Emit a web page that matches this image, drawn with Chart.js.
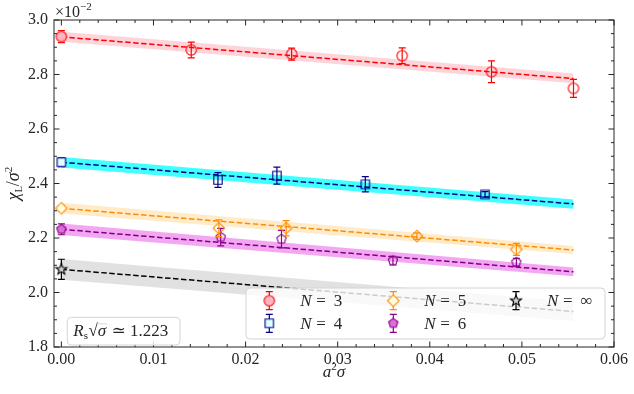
<!DOCTYPE html>
<html>
<head>
<meta charset="utf-8">
<script src="https://cdn.jsdelivr.net/npm/chart.js@4.4.1/dist/chart.umd.min.js"></script>
<style>
  html, body { margin: 0; padding: 0; background: #fff; }
  #wrap { width: 634px; height: 394px; position: relative; }
</style>
</head>
<body>
<div id="wrap"><canvas id="chart"></canvas></div>
<script>
// chi_L / sigma^2 (x 1e-2) against a^2 sigma
const xTicks = [0, 0.01, 0.02, 0.03, 0.04, 0.05, 0.06];
const yTicks = [1.8, 2.0, 2.2, 2.4, 2.6, 2.8, 3.0];

const n3X = [0, 0.0141, 0.0250, 0.0370, 0.0467, 0.0556];
const n3Y = [2.939, 2.890, 2.875, 2.869, 2.810, 2.749];
const n3Err = [0.022, 0.029, 0.022, 0.029, 0.040, 0.033];

const n4X = [0, 0.0170, 0.0234, 0.0330, 0.0460];
const n4Y = [2.478, 2.413, 2.429, 2.397, 2.360];
const n4Err = [0.016, 0.027, 0.031, 0.028, 0.010];

const n5X = [0, 0.0171, 0.0244, 0.0386, 0.0494];
const n5Y = [2.309, 2.236, 2.236, 2.207, 2.158];
const n5Err = [0.010, 0.031, 0.028, 0.012, 0.022];

const n6X = [0, 0.0173, 0.0239, 0.0360, 0.0494];
const n6Y = [2.232, 2.203, 2.196, 2.117, 2.111];
const n6Err = [0.020, 0.032, 0.032, 0.016, 0.014];

const nInfX = [0];
const nInfY = [2.085];
const nInfErr = [0.037];

// linear fits and their error bands
const fitX = [0, 0.0556];
const fit3 = [2.938, 2.785], band3Hi = [2.957, 2.804], band3Lo = [2.920, 2.768];
const fit4 = [2.478, 2.325], band4Hi = [2.497, 2.341], band4Lo = [2.459, 2.307];
const fit5 = [2.309, 2.156], band5Hi = [2.329, 2.171], band5Lo = [2.290, 2.141];
const fit6 = [2.232, 2.076], band6Hi = [2.253, 2.092], band6Lo = [2.211, 2.060];
const fitInf = [2.085, 1.930], bandInfHi = [2.123, 1.966], bandInfLo = [2.047, 1.895];

const SERIF = "'Liberation Serif', 'DejaVu Serif', serif";

function makeMarker(shape, fill, stroke) {
  const c = document.createElement('canvas');
  c.width = 16; c.height = 16;
  const g = c.getContext('2d');
  g.translate(8, 8);
  g.beginPath();
  if (shape === 'circle') {
    g.arc(0, 0, 5.2, 0, Math.PI * 2);
  } else if (shape === 'square') {
    g.rect(-4.2, -4.2, 8.4, 8.4);
  } else if (shape === 'diamond') {
    g.moveTo(0, -5.8); g.lineTo(5.8, 0); g.lineTo(0, 5.8); g.lineTo(-5.8, 0); g.closePath();
  } else if (shape === 'pentagon') {
    for (let k = 0; k < 5; k++) {
      const a = -Math.PI / 2 + k * 2 * Math.PI / 5;
      g.lineTo(4.9 * Math.cos(a), 4.9 * Math.sin(a));
    }
    g.closePath();
  } else if (shape === 'star') {
    for (let k = 0; k < 10; k++) {
      const r = k % 2 ? 2.4 : 5.8;
      const a = -Math.PI / 2 + k * Math.PI / 5;
      g.lineTo(r * Math.cos(a), r * Math.sin(a));
    }
    g.closePath();
  }
  if (fill) { g.fillStyle = fill; g.fill(); }
  g.lineWidth = 1.1;
  g.strokeStyle = stroke;
  g.stroke();
  return c;
}

const series = [
  { label: '3', xs: n3X, ys: n3Y, errs: n3Err, fit: fit3, hi: band3Hi, lo: band3Lo,
    color: '#ff0000', line: '#ff0000', fill: '#ffb6c1', band: 'rgba(255,182,193,0.6)', shape: 'circle' },
  { label: '4', xs: n4X, ys: n4Y, errs: n4Err, fit: fit4, hi: band4Hi, lo: band4Lo,
    color: '#00008b', line: '#00008b', fill: '#e0ffff', band: 'rgba(0,255,255,0.75)', shape: 'square' },
  { label: '5', xs: n5X, ys: n5Y, errs: n5Err, fit: fit5, hi: band5Hi, lo: band5Lo,
    color: '#ff8c00', line: '#ff8c00', fill: '#ffffe0', band: 'rgba(255,165,0,0.22)', shape: 'diamond' },
  { label: '6', xs: n6X, ys: n6Y, errs: n6Err, fit: fit6, hi: band6Hi, lo: band6Lo,
    color: '#8b008b', line: '#800080', fill: '#da70d6', band: 'rgba(238,130,238,0.7)', shape: 'pentagon' },
  { label: '\u221E', xs: nInfX, ys: nInfY, errs: nInfErr, fit: fitInf, hi: bandInfHi, lo: bandInfLo,
    color: '#000000', line: '#000000', fill: '#d3d3d3', band: 'rgba(200,200,200,0.55)', shape: 'star' }
];

series.forEach(s => {
  s.filled = makeMarker(s.shape, s.fill, s.color);
  s.hollow = makeMarker(s.shape, null, s.color);
});

const pts = (xs, ys) => xs.map((x, i) => ({ x: x, y: ys[i] }));

const datasets = [];
series.forEach(s => {
  datasets.push({
    data: pts(fitX, s.hi), fill: '+1', backgroundColor: s.band,
    borderColor: 'transparent', borderWidth: 0, pointRadius: 0, order: 3
  });
  datasets.push({
    data: pts(fitX, s.lo), fill: false,
    borderColor: 'transparent', borderWidth: 0, pointRadius: 0, order: 3
  });
  datasets.push({
    data: pts(fitX, s.fit), fill: false, borderColor: s.line, borderWidth: 1.5,
    borderDash: [5.5, 2.5], pointRadius: 0, order: 2
  });
  datasets.push({
    data: pts(s.xs, s.ys), showLine: false, order: 1, pointRadius: 6,
    pointStyle: ctx => ctx.dataIndex === 0 ? s.filled : s.hollow,
    errors: s.errs, errColor: s.color
  });
});

function errBar(ctx, x, yTop, yBot, color) {
  ctx.save();
  ctx.strokeStyle = color;
  ctx.lineWidth = 1.2;
  ctx.beginPath();
  ctx.moveTo(x, yTop); ctx.lineTo(x, yBot);
  ctx.moveTo(x - 3.5, yTop); ctx.lineTo(x + 3.5, yTop);
  ctx.moveTo(x - 3.5, yBot); ctx.lineTo(x + 3.5, yBot);
  ctx.stroke();
  ctx.restore();
}

const errorBars = {
  id: 'errorBars',
  beforeDatasetDraw(chart, args) {
    const ds = chart.data.datasets[args.index];
    if (!ds.errors) return;
    const xs = chart.scales.x, ys = chart.scales.y;
    ds.data.forEach((p, i) => {
      errBar(chart.ctx, xs.getPixelForValue(p.x),
        ys.getPixelForValue(p.y + ds.errors[i]),
        ys.getPixelForValue(p.y - ds.errors[i]), ds.errColor);
    });
  }
};

// draw a run of math pieces: [text, italic, size, dy, extra gap]
function pieceWidth(ctx, parts) {
  let w = 0;
  parts.forEach(p => {
    ctx.font = (p[1] ? 'italic ' : '') + p[2] + 'px ' + SERIF;
    w += ctx.measureText(p[0]).width + (p[4] || 0);
  });
  return w;
}
function drawPieces(ctx, parts, x, y) {
  parts.forEach(p => {
    ctx.font = (p[1] ? 'italic ' : '') + p[2] + 'px ' + SERIF;
    ctx.fillText(p[0], x, y + (p[3] || 0));
    x += ctx.measureText(p[0]).width + (p[4] || 0);
  });
  return x;
}

function roundBox(ctx, x, y, w, h, r) {
  ctx.beginPath();
  ctx.moveTo(x + r, y);
  ctx.arcTo(x + w, y, x + w, y + h, r);
  ctx.arcTo(x + w, y + h, x, y + h, r);
  ctx.arcTo(x, y + h, x, y, r);
  ctx.arcTo(x, y, x + w, y, r);
  ctx.closePath();
}

const decorations = {
  id: 'decorations',
  afterDraw(chart) {
    const ctx = chart.ctx;
    const a = chart.chartArea;
    const xs = chart.scales.x, ys = chart.scales.y;
    ctx.save();
    ctx.strokeStyle = '#262626';
    ctx.lineWidth = 1;
    ctx.strokeRect(a.left, a.top, a.right - a.left, a.bottom - a.top);

    // inward ticks on all four sides
    ctx.beginPath();
    const xMinor = [];
    for (let k = 0; k <= 30; k++) xMinor.push(k * 0.002);
    const yMinor = [];
    for (let k = 0; k <= 24; k++) yMinor.push(1.8 + k * 0.05);
    xMinor.forEach(v => {
      const px = xs.getPixelForValue(v);
      const len = xTicks.some(t => Math.abs(t - v) < 1e-9) ? 5.5 : 3;
      ctx.moveTo(px, a.bottom); ctx.lineTo(px, a.bottom - len);
      ctx.moveTo(px, a.top); ctx.lineTo(px, a.top + len);
    });
    yMinor.forEach(v => {
      const py = ys.getPixelForValue(v);
      const len = yTicks.some(t => Math.abs(t - v) < 1e-9) ? 5.5 : 3;
      ctx.moveTo(a.left, py); ctx.lineTo(a.left + len, py);
      ctx.moveTo(a.right, py); ctx.lineTo(a.right - len, py);
    });
    ctx.stroke();

    ctx.fillStyle = '#262626';
    ctx.textBaseline = 'alphabetic';
    ctx.textAlign = 'left';

    // offset text
    drawPieces(ctx, [['\u00D710', false, 16], ['\u22122', false, 11, -7]], a.left + 1, a.top - 3);

    // x title
    const xt = [['a', true, 17], ['2', false, 11, -7], ['\u03C3', true, 17]];
    drawPieces(ctx, xt, (a.left + a.right) / 2 - pieceWidth(ctx, xt) / 2, 377);

    // y title
    const yt = [['\u03C7', true, 18], ['L', false, 10, 3], ['/', false, 18], ['\u03C3', true, 18], ['2', false, 11, -7]];
    ctx.save();
    ctx.translate(19, (a.top + a.bottom) / 2);
    ctx.rotate(-Math.PI / 2);
    drawPieces(ctx, yt, -pieceWidth(ctx, yt) / 2, 0);
    ctx.restore();

    // inset box
    const ix = a.left + 13.3, iy = a.bottom - 29.7;
    roundBox(ctx, ix, iy, 112.7, 27.7, 4);
    ctx.fillStyle = 'rgba(255,255,255,0.8)';
    ctx.fill();
    ctx.strokeStyle = '#d4d4d4';
    ctx.stroke();
    ctx.fillStyle = '#262626';
    let tx = drawPieces(ctx, [['R', true, 17], ['s', false, 11, 3, 0.5], ['\u221A', false, 17]], ix + 6, iy + 19);
    const sx = tx;
    tx = drawPieces(ctx, [['\u03C3', true, 17]], tx, iy + 19);
    ctx.beginPath();
    ctx.lineWidth = 0.9;
    ctx.moveTo(sx - 0.5, iy + 6.5); ctx.lineTo(tx + 0.5, iy + 6.5);
    ctx.stroke();
    drawPieces(ctx, [[' \u2243 1.223', false, 17]], tx + 1, iy + 19);

    // legend
    const lx = a.right - 368, ly = a.bottom - 59, lw = 359, lh = 51;
    roundBox(ctx, lx, ly, lw, lh, 4);
    ctx.fillStyle = 'rgba(255,255,255,0.8)';
    ctx.fill();
    ctx.strokeStyle = '#d4d4d4';
    ctx.lineWidth = 1;
    ctx.stroke();
    const cols = [23.3, 147.3, 270];
    const rows = [12.7, 35.3];
    series.forEach((s, i) => {
      const mx = lx + cols[Math.floor(i / 2)];
      const my = ly + rows[i % 2];
      errBar(ctx, mx, my - 9, my + 9, s.color);
      ctx.drawImage(s.filled, mx - 8, my - 8);
      ctx.fillStyle = '#262626';
      const t = mx + 31;
      drawPieces(ctx, [['N', true, 17]], t, my + 5.5);
      drawPieces(ctx, [['=', false, 17]], t + 16, my + 5.5);
      drawPieces(ctx, [[s.label, false, 17]], t + 33.5, my + 5.5);
    });
    ctx.restore();
  }
};

const tickFont = { family: SERIF, size: 16 };

new Chart(document.getElementById('chart'), {
  type: 'line',
  data: { datasets: datasets },
  options: {
    responsive: true,
    maintainAspectRatio: false,
    animation: false,
    events: [],
    layout: { padding: { top: 20, right: 20, left: 0, bottom: 0 } },
    plugins: { legend: { display: false }, tooltip: { enabled: false } },
    scales: {
      x: {
        type: 'linear', min: -0.0008, max: 0.06,
        grid: { display: false, drawTicks: false },
        border: { display: false },
        afterBuildTicks: s => { s.ticks = xTicks.map(v => ({ value: v })); },
        afterFit: s => { s.height = 47; },
        ticks: { font: tickFont, color: '#262626', padding: 3, maxRotation: 0,
          callback: v => v.toFixed(2) }
      },
      y: {
        type: 'linear', min: 1.8, max: 3.0,
        grid: { display: false, drawTicks: false },
        border: { display: false },
        afterBuildTicks: s => { s.ticks = yTicks.map(v => ({ value: v })); },
        afterFit: s => { s.width = 54; },
        ticks: { font: tickFont, color: '#262626', padding: 6,
          callback: v => v.toFixed(1) }
      }
    }
  },
  plugins: [errorBars, decorations]
});
</script>
</body>
</html>
